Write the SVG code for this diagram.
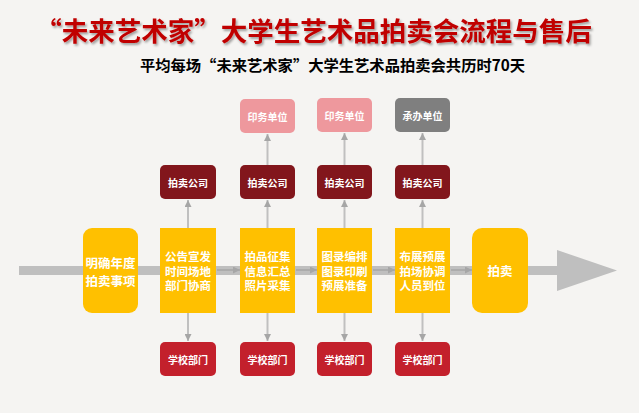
<svg xmlns="http://www.w3.org/2000/svg" width="639" height="413" viewBox="0 0 639 413">
<defs>
<style>
.bg{fill:#F5F4F2}
.cjk{font-family:"Noto Sans CJK SC","Noto Sans",sans-serif}
.title{font-size:26.5px;font-weight:bold;fill:#C00000}
.sub{font-size:15.3px;font-weight:bold;fill:#000}
.step{fill:#FFC000}
.wt{fill:#FFFFFF;font-weight:bold;text-anchor:middle;dominant-baseline:central}
.big{font-size:12.5px}
.mid{font-size:11.5px}
.sm{font-size:10px}
.co{fill:#82161C}
.pr{fill:#EE989D}
.gr{fill:#7F7F7F}
.sc{fill:#C3202C}
.vl{stroke:#C0C0C0;stroke-width:2;fill:none}
.hl{stroke:#A6A6A6;stroke-width:1.5;fill:none}
</style>
<marker id="ah" viewBox="0 0 10 10" refX="10" refY="5" markerWidth="7" markerHeight="7" markerUnits="userSpaceOnUse" orient="auto">
<path d="M0,0 L10,5 L0,10 z" fill="#A6A6A6"/>
</marker>
<filter id="sh" x="-5%" y="-30%" width="110%" height="160%">
<feDropShadow dx="1.5" dy="2" stdDeviation="1.2" flood-color="#000" flood-opacity="0.35"/>
</filter>
</defs>
<rect class="bg" x="0" y="0" width="639" height="413"/>

<text class="cjk title" x="313.5" y="41" text-anchor="middle" filter="url(#sh)">“未来艺术家”大学生艺术品拍卖会流程与售后</text>
<text class="cjk sub" x="332.5" y="71" text-anchor="middle">平均每场“未来艺术家”大学生艺术品拍卖会共历时70天</text>

<g id="band">
<rect x="19" y="266" width="540" height="9" fill="#BFBFBF"/>
<path d="M557,250 L617,270.5 L557,291 z" fill="#BFBFBF"/>
</g>

<g id="connectors">
<line class="hl" x1="217" y1="270" x2="240" y2="270" marker-end="url(#ah)"/>
<line class="hl" x1="296" y1="270" x2="317" y2="270" marker-end="url(#ah)"/>
<line class="hl" x1="373" y1="270" x2="395" y2="270" marker-end="url(#ah)"/>
<line class="hl" x1="451" y1="270" x2="472" y2="270" marker-end="url(#ah)"/>

<line class="vl" x1="188" y1="228" x2="188" y2="200" marker-end="url(#ah)"/>
<line class="vl" x1="267.5" y1="228" x2="267.5" y2="200" marker-end="url(#ah)"/>
<line class="vl" x1="344.5" y1="228" x2="344.5" y2="200" marker-end="url(#ah)"/>
<line class="vl" x1="422.5" y1="228" x2="422.5" y2="200" marker-end="url(#ah)"/>

<line class="vl" x1="267.5" y1="165" x2="267.5" y2="134" marker-end="url(#ah)"/>
<line class="vl" x1="344.5" y1="165" x2="344.5" y2="133" marker-end="url(#ah)"/>
<line class="vl" x1="422.5" y1="165" x2="422.5" y2="133" marker-end="url(#ah)"/>

<line class="vl" x1="188" y1="313" x2="188" y2="341" marker-end="url(#ah)"/>
<line class="vl" x1="267.5" y1="313" x2="267.5" y2="341" marker-end="url(#ah)"/>
<line class="vl" x1="344.5" y1="313" x2="344.5" y2="341" marker-end="url(#ah)"/>
<line class="vl" x1="422.5" y1="313" x2="422.5" y2="341" marker-end="url(#ah)"/>
</g>

<g id="n-start">
<rect class="step" x="83" y="228" width="55" height="85" rx="9"/>
<text class="cjk wt big"><tspan x="110.5" y="261.5">明确年度</tspan><tspan x="110.5" y="279.5">拍卖事项</tspan></text>
</g>
<g id="n-s1">
<rect class="step" x="160" y="228" width="56" height="85"/>
<text class="cjk wt mid"><tspan x="188" y="256">公告宣发</tspan><tspan x="188" y="270.5">时间场地</tspan><tspan x="188" y="285">部门协商</tspan></text>
</g>
<g id="n-s2">
<rect class="step" x="240" y="228" width="55" height="85"/>
<text class="cjk wt mid"><tspan x="267.5" y="256">拍品征集</tspan><tspan x="267.5" y="270.5">信息汇总</tspan><tspan x="267.5" y="285">照片采集</tspan></text>
</g>
<g id="n-s3">
<rect class="step" x="317" y="228" width="55" height="85"/>
<text class="cjk wt mid"><tspan x="344.5" y="256">图录编排</tspan><tspan x="344.5" y="270.5">图录印刷</tspan><tspan x="344.5" y="285">预展准备</tspan></text>
</g>
<g id="n-s4">
<rect class="step" x="395" y="228" width="55" height="85"/>
<text class="cjk wt mid"><tspan x="422.5" y="256">布展预展</tspan><tspan x="422.5" y="270.5">拍场协调</tspan><tspan x="422.5" y="285">人员到位</tspan></text>
</g>
<g id="n-end">
<rect class="step" x="472" y="228" width="56" height="85" rx="10"/>
<text class="cjk wt big" x="500" y="270.5">拍卖</text>
</g>

<g id="n-co1"><rect class="co" x="160" y="165" width="56" height="34" rx="5"/><text class="cjk wt sm" x="188" y="182">拍卖公司</text></g>
<g id="n-co2"><rect class="co" x="240" y="165" width="55" height="34" rx="5"/><text class="cjk wt sm" x="267.5" y="182">拍卖公司</text></g>
<g id="n-co3"><rect class="co" x="317" y="165" width="55" height="34" rx="5"/><text class="cjk wt sm" x="344.5" y="182">拍卖公司</text></g>
<g id="n-co4"><rect class="co" x="395" y="165" width="55" height="34" rx="5"/><text class="cjk wt sm" x="422.5" y="182">拍卖公司</text></g>

<g id="n-pr1"><rect class="pr" x="240" y="99" width="55" height="34" rx="5"/><text class="cjk wt sm" x="267.5" y="116.5">印务单位</text></g>
<g id="n-pr2"><rect class="pr" x="317" y="98" width="55" height="34" rx="5"/><text class="cjk wt sm" x="344.5" y="115">印务单位</text></g>
<g id="n-host"><rect class="gr" x="395" y="98" width="55" height="34" rx="5"/><text class="cjk wt sm" x="422.5" y="115">承办单位</text></g>

<g id="n-sc1"><rect class="sc" x="160" y="342" width="56" height="34" rx="5"/><text class="cjk wt sm" x="188" y="359">学校部门</text></g>
<g id="n-sc2"><rect class="sc" x="240" y="342" width="55" height="34" rx="5"/><text class="cjk wt sm" x="267.5" y="359">学校部门</text></g>
<g id="n-sc3"><rect class="sc" x="317" y="342" width="55" height="34" rx="5"/><text class="cjk wt sm" x="344.5" y="359">学校部门</text></g>
<g id="n-sc4"><rect class="sc" x="395" y="342" width="55" height="34" rx="5"/><text class="cjk wt sm" x="422.5" y="359">学校部门</text></g>
</svg>
